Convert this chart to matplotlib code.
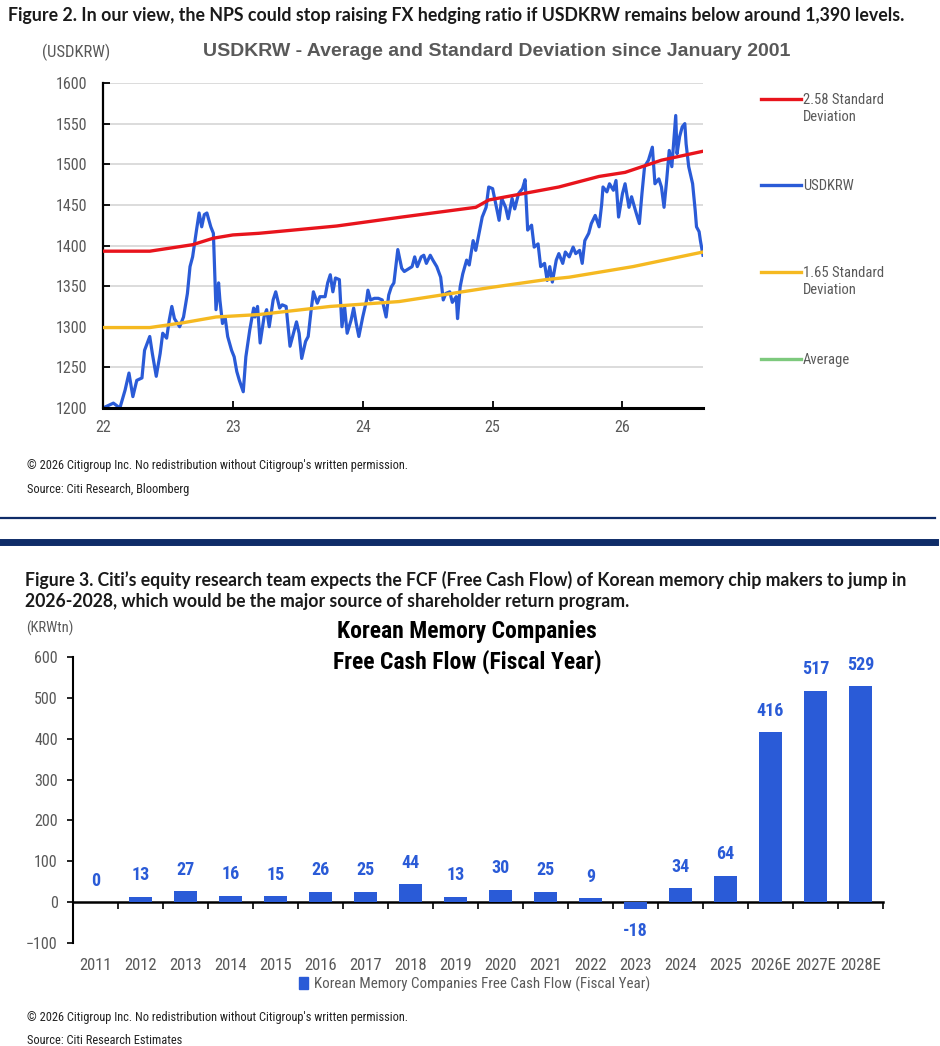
import matplotlib
matplotlib.use('Agg')
import matplotlib.pyplot as plt
from matplotlib.lines import Line2D
from matplotlib.patches import Rectangle

# ---- Figure 2 data: USDKRW (decimal year, 22 = Jan 2022) ----
usd_t = [22.00, 22.08, 22.13, 22.17, 22.20, 22.23, 22.26, 22.30, 22.32, 22.36, 22.38, 22.41, 22.44, 22.46, 22.49,
         22.51, 22.53, 22.55, 22.59, 22.62, 22.65, 22.67, 22.69, 22.72, 22.74, 22.76, 22.78, 22.80, 22.83, 22.85,
         22.86, 22.87, 22.89, 22.90, 22.92, 22.94, 22.96, 22.99, 23.01, 23.03, 23.05, 23.08, 23.10, 23.13, 23.16,
         23.17, 23.19, 23.21, 23.24, 23.26, 23.28, 23.31, 23.33, 23.36, 23.38, 23.41, 23.44, 23.46, 23.49, 23.51,
         23.53, 23.56, 23.58, 23.60, 23.62, 23.65, 23.67, 23.71, 23.73, 23.75, 23.77, 23.79, 23.82, 23.84, 23.86,
         23.88, 23.91, 23.93, 23.95, 23.97, 24.00, 24.03, 24.04, 24.06, 24.09, 24.12, 24.15, 24.18, 24.20, 24.22,
         24.24, 24.27, 24.30, 24.32, 24.34,
         24.38, 24.40, 24.42, 24.45, 24.47, 24.49, 24.52, 24.54, 24.57, 24.60, 24.62, 24.64, 24.67, 24.69, 24.72,
         24.73, 24.75, 24.77, 24.80, 24.82, 24.85, 24.87, 24.90, 24.92, 24.95, 24.97, 25.00, 25.03, 25.05, 25.07,
         25.10, 25.12, 25.15, 25.17, 25.20, 25.23, 25.25, 25.27, 25.30, 25.32, 25.35, 25.37, 25.40, 25.42, 25.44,
         25.46, 25.49,
         25.51, 25.54, 25.56, 25.59, 25.62, 25.64, 25.67, 25.69, 25.71, 25.74, 25.76, 25.79, 25.82, 25.84, 25.85,
         25.88, 25.90, 25.93, 25.95, 25.97, 26.00, 26.02, 26.05, 26.07, 26.10, 26.13, 26.15, 26.17, 26.20, 26.23,
         26.25, 26.28, 26.30, 26.32, 26.34, 26.36, 26.38, 26.41, 26.42, 26.44, 26.46, 26.48, 26.49, 26.51, 26.54,
         26.56, 26.57, 26.59, 26.60, 26.62]
usd_v = [1200, 1206, 1200, 1222, 1243, 1214, 1234, 1237, 1271, 1288, 1267, 1239, 1267, 1292, 1286,
         1308, 1325, 1310, 1300, 1312, 1341, 1374, 1386, 1419, 1440, 1423, 1438, 1440, 1423, 1415,
         1366, 1321, 1354, 1333, 1304, 1312, 1288, 1271, 1263, 1245, 1234, 1220, 1263, 1296, 1323,
         1312, 1325, 1280, 1312, 1321, 1300, 1333, 1343, 1323, 1327, 1325, 1276, 1288, 1306, 1292,
         1261, 1282, 1288, 1317, 1343, 1329, 1337, 1337, 1354, 1364, 1343, 1360, 1358, 1300, 1325,
         1292, 1308, 1323, 1304, 1288, 1312, 1333, 1345, 1333, 1335, 1335, 1333, 1312, 1339, 1349,
         1354, 1395, 1372, 1368, 1370,
         1374, 1386, 1374, 1386, 1388, 1378, 1388, 1382, 1374, 1361, 1333, 1341, 1343, 1330, 1337,
         1310, 1349, 1365, 1382, 1376, 1406, 1394, 1419, 1435, 1447, 1472, 1470, 1447, 1431, 1458,
         1447, 1433, 1458, 1445, 1464, 1470, 1481, 1419, 1425, 1398, 1402, 1374, 1378, 1357, 1374,
         1355, 1382,
         1390, 1378, 1392, 1386, 1398, 1390, 1394, 1378, 1406, 1415, 1427, 1437, 1423, 1451, 1472,
         1466, 1476, 1468, 1480, 1435, 1464, 1476, 1447, 1460, 1443, 1427, 1464, 1497, 1505, 1521,
         1476, 1482, 1472, 1447, 1480, 1517, 1497, 1560, 1513, 1534, 1546, 1550, 1525, 1497, 1476,
         1443, 1423, 1417, 1406, 1388]

sd258_t = [22.00, 22.36, 22.69, 22.85, 23.00, 23.20, 23.80, 24.30, 24.87, 24.97, 25.51, 25.82, 26.02, 26.30, 26.62]
sd258_v = [1393, 1393, 1401, 1409, 1413, 1415, 1424, 1435, 1447, 1456, 1472, 1485, 1490, 1505, 1516]

sd165_t = [22.00, 22.36, 22.62, 22.87, 23.20, 23.75, 24.28, 24.97, 25.41, 25.59, 26.08, 26.62]
sd165_v = [1299, 1299, 1305, 1312, 1315, 1325, 1331, 1348, 1358, 1361, 1374, 1392]

x_ticks = [22, 23, 24, 25, 26]
y_ticks = [1200, 1250, 1300, 1350, 1400, 1450, 1500, 1550, 1600]

# ---- Figure 3 data ----
years = ['2011', '2012', '2013', '2014', '2015', '2016', '2017', '2018', '2019',
         '2020', '2021', '2022', '2023', '2024', '2025', '2026E', '2027E', '2028E']
fcf = [0, 13, 27, 16, 15, 26, 25, 44, 13, 30, 25, 9, -18, 34, 64, 416, 517, 529]

BLUE = '#2a5bd7'
RED = '#e8141c'
YELLOW = '#f5b921'
GREEN = '#7dc97d'
GREY = '#595959'
NAVY = '#0f2c68'
NARROW = ['Liberation Sans Narrow', 'Roboto Condensed', 'Roboto', 'DejaVu Sans']
ARIAL = ['Liberation Sans', 'DejaVu Sans']
HEAD = ['Lato', 'DejaVu Sans']

W, H = 940, 1046
fig = plt.figure(figsize=(W / 100, H / 100), dpi=100)


def fx(x):
    return x / W


def fy(y):
    return 1 - y / H


# ---------------- Figure 2 ----------------
fig.text(fx(8), fy(15), 'Figure 2. In our view, the NPS could stop raising FX hedging ratio if USDKRW remains below around 1,390 levels.',
         family=HEAD, weight='bold', size=12.8, color='#1a1a1a', va='center', ha='left')
fig.text(fx(76), fy(52), '(USDKRW)', family=NARROW, size=12, color=GREY, va='center', ha='center')
fig.text(fx(497), fy(52), 'USDKRW - Average and Standard Deviation since January 2001',
         family=ARIAL, weight='bold', size=14, color=GREY, va='center', ha='center')

ax1 = fig.add_axes([fx(103), fy(408), (703 - 103) / W, (408 - 83) / H])
ax1.plot(usd_t, usd_v, color=BLUE, lw=2.3, solid_joinstyle='round', zorder=2)
ax1.plot(sd258_t, sd258_v, color=RED, lw=2.4, zorder=3)
ax1.plot(sd165_t, sd165_v, color=YELLOW, lw=2.4, zorder=3)
ax1.set_xlim(22, 26.62)
ax1.set_ylim(1200, 1600)
ax1.set_xticks(x_ticks)
ax1.set_xticklabels([str(t) for t in x_ticks])
ax1.set_yticks(y_ticks)
ax1.grid(axis='y', color='#d9d9d9', lw=1.3, zorder=0)
ax1.set_axisbelow(True)
for s in ['top', 'right']:
    ax1.spines[s].set_visible(False)
ax1.spines['left'].set_linewidth(1.6)
ax1.spines['bottom'].set_linewidth(2.2)
ax1.tick_params(axis='both', direction='in', length=5, width=1.3, colors='black', labelcolor=GREY, labelsize=11.5)
ax1.tick_params(axis='x', pad=9)
ax1.tick_params(axis='y', pad=11)
for lab in ax1.get_xticklabels() + ax1.get_yticklabels():
    lab.set_family(NARROW)

# legend drawn on the right
leg_items = [(99, RED, '2.58 Standard\nDeviation'), (185, BLUE, 'USDKRW'),
             (272, YELLOW, '1.65 Standard\nDeviation'), (359, GREEN, 'Average')]
for y, c, lab in leg_items:
    fig.add_artist(Line2D([fx(761), fx(801)], [fy(y), fy(y)], color=c, lw=2.4, transform=fig.transFigure))
    fig.text(fx(803), fy(y - 6), lab, family=NARROW, size=10.5, color=GREY, va='top', ha='left', linespacing=1.25)

fig.text(fx(27), fy(466), '\u00a9 2026 Citigroup Inc. No redistribution without Citigroup\'s written permission.',
         family=NARROW, size=8.9, color='#222222', va='center')
fig.text(fx(27), fy(489), 'Source: Citi Research, Bloomberg', family=NARROW, size=8.9, color='#222222', va='center')

# separators
fig.add_artist(Line2D([0, fx(935)], [fy(518), fy(518)], color=NAVY, lw=1.6, transform=fig.transFigure))
fig.add_artist(Line2D([0, fx(935)], [fy(542), fy(542)], color=NAVY, lw=5, transform=fig.transFigure))

# ---------------- Figure 3 ----------------
fig.text(fx(25), fy(580), 'Figure 3. Citi\u2019s equity research team expects the FCF (Free Cash Flow) of Korean memory chip makers to jump in',
         family=HEAD, weight='bold', size=12.7, color='#1a1a1a', va='center')
fig.text(fx(25), fy(601), '2026-2028, which would be the major source of shareholder return program.',
         family=HEAD, weight='bold', size=12.7, color='#1a1a1a', va='center')
fig.text(fx(50), fy(628), '(KRWtn)', family=NARROW, size=10.5, color=GREY, va='center', ha='center')
fig.text(fx(467), fy(647), 'Korean Memory Companies\nFree Cash Flow (Fiscal Year)', family=NARROW, weight='bold',
         size=17, color='black', va='center', ha='center', linespacing=1.3)

ax2 = fig.add_axes([fx(73), fy(943), (883 - 73) / W, (943 - 657) / H])
xpos = list(range(len(years)))
bars = ax2.bar(xpos, fcf, width=0.49, color=BLUE, zorder=2)
ax2.set_xlim(-0.5, len(years) - 0.5)
ax2.set_ylim(-100, 600)
ax2.set_yticks(range(-100, 601, 100))
ax2.set_xticks(xpos)
ax2.set_xticklabels(years)
for s in ['top', 'right', 'bottom']:
    ax2.spines[s].set_visible(False)
ax2.spines['left'].set_linewidth(1.5)
ax2.tick_params(axis='x', length=0, pad=11, labelsize=12, labelcolor=GREY)
ax2.tick_params(axis='y', direction='out', length=4, width=1.2, labelsize=11.5, labelcolor=GREY, pad=7)
for lab in ax2.get_xticklabels() + ax2.get_yticklabels():
    lab.set_family(NARROW)

# zero line with category separators
zero_frac = (0 - (-100)) / (600 - (-100))
sec = ax2.secondary_xaxis(zero_frac)
sec.set_xticks([i + 0.5 for i in xpos[:-1]] + [len(years) - 0.5])
sec.tick_params(axis='x', direction='out', length=5, width=1.2, labelbottom=False, labeltop=False)
sec.spines['bottom'].set_linewidth(1.8)
sec.spines['top'].set_linewidth(1.8)

for rect, v in zip(bars, fcf):
    if v >= 0:
        ax2.annotate(str(v), (rect.get_x() + rect.get_width() / 2, v), xytext=(0, 9), textcoords='offset points',
                     ha='center', va='bottom', color=BLUE, weight='bold', size=13, family=NARROW)
    else:
        ax2.annotate(str(v), (rect.get_x() + rect.get_width() / 2, v), xytext=(0, -9), textcoords='offset points',
                     ha='center', va='top', color=BLUE, weight='bold', size=13, family=NARROW)

handle = Rectangle((0, 0), 1, 1, color=BLUE)
ax2.legend([handle], ['Korean Memory Companies Free Cash Flow (Fiscal Year)'], loc='center',
           bbox_to_anchor=(0.496, -(984 - 943) / (943 - 657)), frameon=False, handlelength=0.6, handleheight=0.9,
           handletextpad=0.4, prop={'family': NARROW, 'size': 10.8}, labelcolor=GREY)

fig.text(fx(27), fy(1018), '\u00a9 2026 Citigroup Inc. No redistribution without Citigroup\'s written permission.',
         family=NARROW, size=8.9, color='#222222', va='center')
fig.text(fx(27), fy(1040), 'Source: Citi Research Estimates', family=NARROW, size=8.9, color='#222222', va='center')

fig.savefig('out.png', dpi=100, facecolor='white')
